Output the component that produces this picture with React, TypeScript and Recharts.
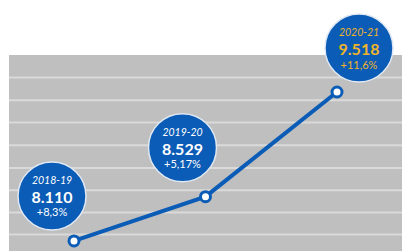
import { LineChart, Line, XAxis, YAxis, CartesianGrid, LabelList } from 'recharts'

const seasons = ['2018-19', '2019-20', '2020-21']
const totals = [8110, 8529, 9518]
const totalLabels = ['8.110', '8.529', '9.518']
const growth = ['+8,3%', '+5,17%', '+11,6%']
const gridTicks = [8170, 8380, 8590, 8800, 9015, 9230, 9440, 9655]

const BLUE = '#0b5cb6'
const GOLD = '#f0b429'
// bubble offset from its point, per season
const bubbleOffsets = [
  [-22, -45],
  [-23, -49],
  [22, -44],
]

const data = seasons.map((s, i) => ({ season: s, value: totals[i] }))

function Bubble(props: any) {
  const { x, y, value } = props
  let i = props.index
  if (i === undefined) i = totals.indexOf(value)
  const [dx, dy] = bubbleOffsets[i]
  const cx = x + dx
  const cy = y + dy
  const color = i === 2 ? GOLD : '#ffffff'
  return (
    <g>
      <circle cx={cx} cy={cy} r={34} fill={BLUE} stroke="#dfe8f3" strokeWidth={1.5} />
      <text x={cx} y={cy - 16} textAnchor="middle" dominantBaseline="central" fill={color} fontSize={10.5} fontStyle="italic">
        {seasons[i]}
      </text>
      <text x={cx} y={cy + 0.5} textAnchor="middle" dominantBaseline="central" fill={color} fontSize={16} fontWeight="bold">
        {totalLabels[i]}
      </text>
      <text x={cx} y={cy + 16} textAnchor="middle" dominantBaseline="central" fill={color} fontSize={11}>
        {growth[i]}
      </text>
    </g>
  )
}

export default function App() {
  return (
    <div style={{ position: 'absolute', left: 0, top: 0, width: 405, height: 251, overflow: 'hidden', background: '#fff', fontFamily: 'Lato, sans-serif' }}>
      <LineChart width={405} height={251} data={data} margin={{ top: 55, right: 3, left: 9, bottom: 0 }}>
        <CartesianGrid vertical={false} fill="#bfbfbf" stroke="#dadada" strokeWidth={2} horizontalValues={gridTicks} />
        <XAxis dataKey="season" hide padding={{ left: 65, right: 65 }} />
        <YAxis hide domain={[8015, 9868]} ticks={gridTicks} interval={0} />
        <Line
          dataKey="value"
          stroke={BLUE}
          strokeWidth={4}
          dot={{ r: 5, fill: '#fff', stroke: BLUE, strokeWidth: 3 }}
          activeDot={false}
          isAnimationActive={false}
        >
          <LabelList dataKey="value" content={Bubble} />
        </Line>
      </LineChart>
    </div>
  )
}
